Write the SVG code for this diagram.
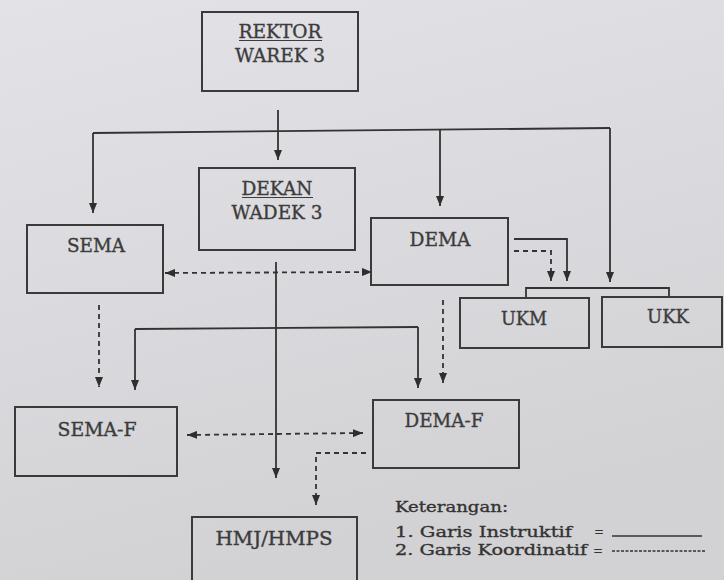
<svg xmlns="http://www.w3.org/2000/svg" width="724" height="580" viewBox="0 0 724 580">
<defs>
<linearGradient id="bg" x1="0" y1="0" x2="0.3" y2="1">
<stop offset="0" stop-color="#e3e2e7"/>
<stop offset="1" stop-color="#d2d1d4"/>
</linearGradient>
<marker id="arr" viewBox="0 0 10 8" refX="10" refY="4" markerWidth="10" markerHeight="8" markerUnits="userSpaceOnUse" orient="auto-start-reverse">
<path d="M0,0 L10,4 L0,8 z" fill="#2e2e2e"/>
</marker>
<style>
.box{fill:none;stroke:#3a3a3a;stroke-width:2}
.t{font-family:"DejaVu Serif","Liberation Serif",serif;font-size:18px;fill:#3c3c3c;stroke:#3c3c3c;stroke-width:0.35;text-anchor:middle}
.lg{font-family:"DejaVu Serif","Liberation Serif",serif;font-size:15px;fill:#333;stroke:#333;stroke-width:0.35}
.eq{font-family:"DejaVu Serif","Liberation Serif",serif;font-size:12px;fill:#333}
.s{fill:none;stroke:#333;stroke-width:1.8}
.d{fill:none;stroke:#333;stroke-width:1.8;stroke-dasharray:5 4}
.ul{stroke:#3c3c3c;stroke-width:1.2}
</style>
</defs>
<rect width="724" height="580" fill="url(#bg)"/>

<g id="connectors">
<path class="s" d="M278,110 V160" marker-end="url(#arr)"/>
<path class="s" d="M93,133 L610,128"/>
<path class="s" d="M93,133 V213" marker-end="url(#arr)"/>
<path class="s" d="M440,129 V206" marker-end="url(#arr)"/>
<path class="s" d="M610,128 V282" marker-end="url(#arr)"/>
<path class="s" d="M514,239 H567 V281" marker-end="url(#arr)"/>
<path class="d" d="M514,251 H551 V281" marker-end="url(#arr)"/>
<path class="s" d="M526,298 V288 H669 V297"/>
<path class="d" d="M165,273 L372,272" marker-start="url(#arr)" marker-end="url(#arr)"/>
<path class="s" d="M276,262 V478" marker-end="url(#arr)"/>
<path class="s" d="M135,329 L418,327"/>
<path class="s" d="M135,329 V390" marker-end="url(#arr)"/>
<path class="s" d="M418,327 V388" marker-end="url(#arr)"/>
<path class="d" d="M99,305 V387" marker-end="url(#arr)"/>
<path class="d" d="M443,300 V383" marker-end="url(#arr)"/>
<path class="d" d="M187,435 L363,433" marker-start="url(#arr)" marker-end="url(#arr)"/>
<path class="d" d="M366,453 H316 V505" marker-end="url(#arr)"/>
</g>

<g id="rektor">
<rect class="box" x="202" y="12" width="156" height="79"/>
<text class="t" x="280" y="38" textLength="83" lengthAdjust="spacingAndGlyphs">REKTOR</text>
<line class="ul" x1="239" y1="40.5" x2="322" y2="40.5"/>
<text class="t" x="280" y="62" textLength="90" lengthAdjust="spacingAndGlyphs">WAREK 3</text>
</g>

<g id="dekan">
<rect class="box" x="199" y="168" width="156" height="82"/>
<text class="t" x="277" y="195" textLength="71" lengthAdjust="spacingAndGlyphs">DEKAN</text>
<line class="ul" x1="242" y1="197.5" x2="313" y2="197.5"/>
<text class="t" x="277" y="219" textLength="91" lengthAdjust="spacingAndGlyphs">WADEK 3</text>
</g>

<g id="sema">
<rect class="box" x="27" y="225" width="136" height="68"/>
<text class="t" x="96" y="252" textLength="58" lengthAdjust="spacingAndGlyphs">SEMA</text>
</g>

<g id="dema">
<rect class="box" x="371" y="218" width="137" height="67"/>
<text class="t" x="440" y="246" textLength="61" lengthAdjust="spacingAndGlyphs">DEMA</text>
</g>

<g id="ukm">
<rect class="box" x="460" y="298" width="129" height="50"/>
<text class="t" x="524" y="325" textLength="46" lengthAdjust="spacingAndGlyphs">UKM</text>
</g>

<g id="ukk">
<rect class="box" x="602" y="297" width="120" height="50"/>
<text class="t" x="668" y="323" textLength="42" lengthAdjust="spacingAndGlyphs">UKK</text>
</g>

<g id="sema-f">
<rect class="box" x="15" y="407" width="162" height="69"/>
<text class="t" x="97" y="436" textLength="79" lengthAdjust="spacingAndGlyphs">SEMA-F</text>
</g>

<g id="dema-f">
<rect class="box" x="373" y="400" width="146" height="68"/>
<text class="t" x="444" y="427" textLength="79" lengthAdjust="spacingAndGlyphs">DEMA-F</text>
</g>

<g id="hmj">
<rect class="box" x="192" y="517" width="165" height="80"/>
<text class="t" x="274" y="545" textLength="117" lengthAdjust="spacingAndGlyphs">HMJ/HMPS</text>
</g>

<g id="legend">
<text class="lg" x="395" y="512" textLength="113" lengthAdjust="spacingAndGlyphs">Keterangan:</text>
<text class="lg" x="395" y="537" textLength="177" lengthAdjust="spacingAndGlyphs">1. Garis Instruktif</text>
<text class="eq" x="594" y="536">=</text>
<line x1="612" y1="536" x2="702" y2="536" stroke="#333" stroke-width="1.5"/>
<text class="lg" x="395" y="555" textLength="192" lengthAdjust="spacingAndGlyphs">2. Garis Koordinatif</text>
<text class="eq" x="593" y="555">=</text>
<line x1="612" y1="551" x2="705" y2="551" stroke="#333" stroke-width="1.5" stroke-dasharray="3 1.5"/>
</g>
</svg>
